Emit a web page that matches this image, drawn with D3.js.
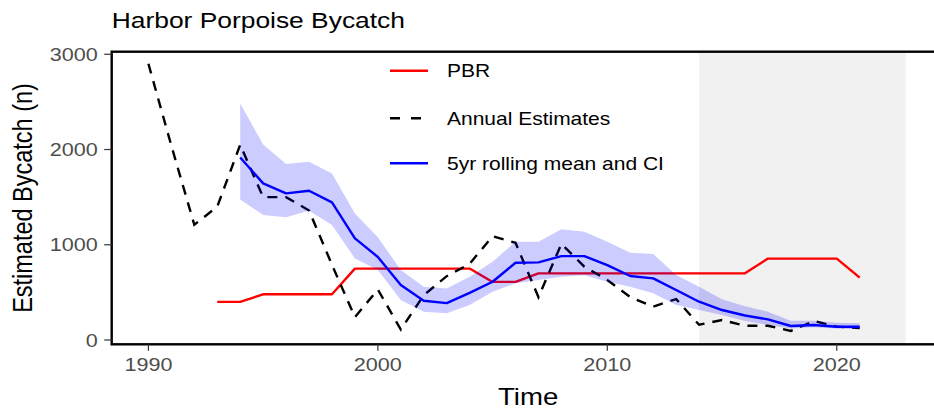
<!DOCTYPE html>
<html>
<head>
<meta charset="utf-8">
<script src="https://cdn.jsdelivr.net/npm/d3@7/dist/d3.min.js"></script>
<style>
  body { margin: 0; background: #fff; }
  text { font-family: "Liberation Sans", Arial, Helvetica, sans-serif; }
</style>
</head>
<body>
<svg id="chart" width="934" height="410"></svg>
<script>
// Annual bycatch estimates, 1990–2021
const annualYears = d3.range(1990, 2022);
const annualEstimates = [2900, 2040, 1210, 1400, 2050, 1500, 1500, 1360, 790, 240,
                         530, 110, 470, 670, 800, 1090, 1020, 450, 1010, 770,
                         630, 450, 350, 430, 160, 210, 150, 150, 95, 200,
                         140, 125];

// Potential Biological Removal, 1993–2021
const pbrYears = d3.range(1993, 2022);
const pbrValues = [400, 400, 480, 480, 480, 480, 750, 750, 750, 750,
                   750, 750, 610, 610, 700, 700, 700, 700, 700, 700,
                   700, 700, 700, 700, 855, 855, 855, 855, 655];

// 5-year rolling mean with confidence interval, 1994–2021
const rollYears = d3.range(1994, 2022);
const rollMean = [1917, 1645, 1540, 1567, 1445, 1067, 872, 577, 412, 387,
                  495, 612, 811, 815, 881, 881, 787, 672, 647, 525,
                  402, 315, 257, 217, 147, 157, 140, 140];
const rollUpper = [2483, 2053, 1847, 1871, 1749, 1329, 1080, 734, 560, 542,
                   665, 822, 1032, 1032, 1162, 1137, 1032, 916, 902, 682,
                   560, 427, 355, 297, 203, 203, 182, 175];
const rollLower = [1476, 1312, 1290, 1357, 1207, 857, 734, 420, 297, 280,
                   367, 507, 595, 630, 665, 680, 612, 560, 490, 367,
                   315, 262, 200, 157, 122, 133, 122, 112];

// Shaded recent period
const shadedPeriod = [2014, 2023];

const xTicks = [1990, 2000, 2010, 2020];
const yTicks = [0, 1000, 2000, 3000];
const legendLabels = ["PBR", "Annual Estimates", "5yr rolling mean and CI"];

const svg = d3.select("#chart");
const panel = { left: 111.7, right: 944.5, top: 51.7, bottom: 344.3 };
const SX = 1.2; // horizontal widening of glyphs

const x = d3.scaleLinear().domain([1988.4, 2024.6]).range([panel.left, panel.right - 2.2]);
const y = d3.scaleLinear().domain([-45, 3027]).range([panel.bottom, panel.top]);

function label(parent, px, py, str, size, anchor, fill, rotate) {
  const g = parent.append("g")
    .attr("transform", `translate(${px},${py}) scale(${SX},1)` + (rotate ? ` rotate(${rotate})` : ""));
  return g.append("text")
    .attr("x", 0).attr("y", 0)
    .attr("font-size", size)
    .attr("text-anchor", anchor)
    .attr("fill", fill)
    .text(str);
}

// shaded period
svg.append("rect")
  .attr("x", x(shadedPeriod[0]))
  .attr("y", panel.top)
  .attr("width", x(shadedPeriod[1]) - x(shadedPeriod[0]))
  .attr("height", panel.bottom - panel.top)
  .attr("fill", "#f1f1f1");

const lineGen = (xs, ys) => d3.line()
  .x((d, i) => x(xs[i]))
  .y(d => y(d))(ys);

// PBR
svg.append("path")
  .attr("d", lineGen(pbrYears, pbrValues))
  .attr("fill", "none").attr("stroke", "#ff0000")
  .attr("stroke-width", 2.4).attr("stroke-linejoin", "round");

// annual estimates
svg.append("path")
  .attr("d", lineGen(annualYears, annualEstimates))
  .attr("fill", "none").attr("stroke", "#000")
  .attr("stroke-width", 2.4).attr("stroke-dasharray", "10,8");

// confidence ribbon
const area = d3.area()
  .x((d, i) => x(rollYears[i]))
  .y0((d, i) => y(rollLower[i]))
  .y1(d => y(d));
svg.append("path")
  .attr("d", area(rollUpper))
  .attr("fill", "#0000ff").attr("fill-opacity", 0.2);

// rolling mean
svg.append("path")
  .attr("d", lineGen(rollYears, rollMean))
  .attr("fill", "none").attr("stroke", "#0000ff")
  .attr("stroke-width", 2.4).attr("stroke-linejoin", "round");

// panel border
svg.append("rect")
  .attr("x", panel.left).attr("y", panel.top)
  .attr("width", panel.right - panel.left)
  .attr("height", panel.bottom - panel.top)
  .attr("fill", "none").attr("stroke", "#000").attr("stroke-width", 2.4);

// y axis
const yAxis = svg.append("g");
yTicks.forEach(t => {
  yAxis.append("line")
    .attr("x1", panel.left - 7.5).attr("x2", panel.left)
    .attr("y1", y(t)).attr("y2", y(t))
    .attr("stroke", "#333").attr("stroke-width", 1.2);
  label(yAxis, panel.left - 14, y(t) + 6.5, String(t), 18, "end", "#4d4d4d");
});

// x axis
const xAxis = svg.append("g");
xTicks.forEach(t => {
  xAxis.append("line")
    .attr("x1", x(t)).attr("x2", x(t))
    .attr("y1", panel.bottom).attr("y2", panel.bottom + 6.5)
    .attr("stroke", "#333").attr("stroke-width", 1.2);
  label(xAxis, x(t), 371, String(t), 18, "middle", "#4d4d4d");
});

// axis titles
label(svg, (panel.left + panel.right) / 2, 405, "Time", 23, "middle", "#000");
label(svg, 32, (panel.top + panel.bottom) / 2, "Estimated Bycatch (n)", 23.5, "middle", "#000", -90);

// chart title
label(svg, panel.left, 28, "Harbor Porpoise Bycatch", 22, "start", "#000");

// legend
const legendRows = [70.7, 118.3, 163.3];
const legendStyles = [
  { stroke: "#ff0000", dash: null },
  { stroke: "#000", dash: "10,11" },
  { stroke: "#0000ff", dash: null }
];
const legend = svg.append("g");
legendLabels.forEach((lab, i) => {
  legend.append("line")
    .attr("x1", 390).attr("x2", 428)
    .attr("y1", legendRows[i]).attr("y2", legendRows[i])
    .attr("stroke", legendStyles[i].stroke)
    .attr("stroke-width", 2.4)
    .attr("stroke-dasharray", legendStyles[i].dash);
  label(legend, 447, legendRows[i] + 6.5, lab, 17.5, "start", "#000");
});
</script>
</body>
</html>
